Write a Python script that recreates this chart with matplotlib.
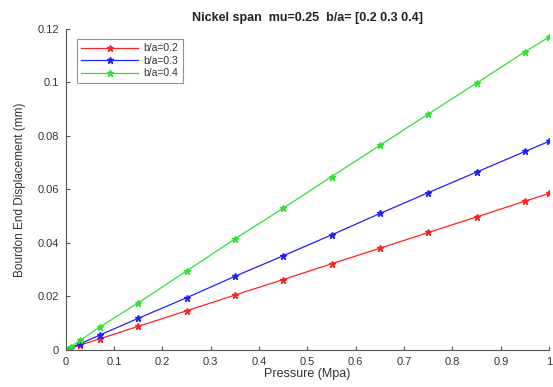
import matplotlib
matplotlib.use("Agg")
import matplotlib.pyplot as plt

pressure = [0, 0.01, 0.03, 0.07, 0.15, 0.25, 0.35, 0.45, 0.55, 0.65, 0.75, 0.85, 0.95, 1.0]
disp_02 = [0, 0.0006, 0.0018, 0.0041, 0.0088, 0.0146, 0.0205, 0.0263, 0.0322, 0.0380, 0.0439, 0.0497, 0.0556, 0.0585]
disp_03 = [0, 0.0008, 0.0023, 0.0055, 0.0118, 0.0195, 0.0275, 0.0352, 0.0430, 0.0510, 0.0588, 0.0665, 0.0742, 0.0780]
disp_04 = [0, 0.0012, 0.0035, 0.0085, 0.0176, 0.0295, 0.0415, 0.0530, 0.0648, 0.0765, 0.0882, 0.0998, 0.1115, 0.1170]
labels = ['b/a=0.2', 'b/a=0.3', 'b/a=0.4']

plt.rcParams['font.family'] = ['Liberation Sans', 'DejaVu Sans']
txt = '#333333'

fig = plt.figure(figsize=(5.53, 3.87), dpi=100)
ax = fig.add_axes([0.119, 0.096, 0.874, 0.829])

ax.plot(pressure, disp_02, color='#ff2020', marker='*', ms=5, lw=0.9, label=labels[0])
ax.plot(pressure, disp_03, color='#2020ff', marker='*', ms=5, lw=0.9, label=labels[1])
ax.plot(pressure, disp_04, color='#30e030', marker='*', ms=5, lw=0.9, label=labels[2])

ax.set_xlim(0, 1)
ax.set_ylim(0, 0.12)
ax.set_xticks([0, 0.1, 0.2, 0.3, 0.4, 0.5, 0.6, 0.7, 0.8, 0.9, 1])
ax.set_xticklabels(['0', '0.1', '0.2', '0.3', '0.4', '0.5', '0.6', '0.7', '0.8', '0.9', '1'])
ax.set_yticks([0, 0.02, 0.04, 0.06, 0.08, 0.1, 0.12])
ax.set_yticklabels(['0', '0.02', '0.04', '0.06', '0.08', '0.1', '0.12'])
ax.tick_params(direction='in', length=3, labelsize=8, colors='#555555', labelcolor=txt, pad=5)
for s in ['top', 'right']:
    ax.spines[s].set_visible(False)
for s in ['left', 'bottom']:
    ax.spines[s].set_color('#555555')

ax.set_xlabel('Pressure (Mpa)', fontsize=9, color=txt, labelpad=1)
ax.set_ylabel('Bourdon End Displacement (mm)', fontsize=8.5, color=txt, labelpad=8)
ax.set_title('Nickel span  mu=0.25  b/a= [0.2 0.3 0.4]', fontsize=9, fontweight='bold', color='#222222', pad=6)

leg = ax.legend(loc='upper left', fontsize=7.5, frameon=True, fancybox=False,
                borderpad=0.4, labelspacing=0.25, handlelength=5.5, handletextpad=0.5,
                bbox_to_anchor=(0.012, 0.985))
leg.get_frame().set_edgecolor('#777777')
leg.get_frame().set_linewidth(0.8)
for t in leg.get_texts():
    t.set_color(txt)

fig.savefig('out.png', dpi=100)
